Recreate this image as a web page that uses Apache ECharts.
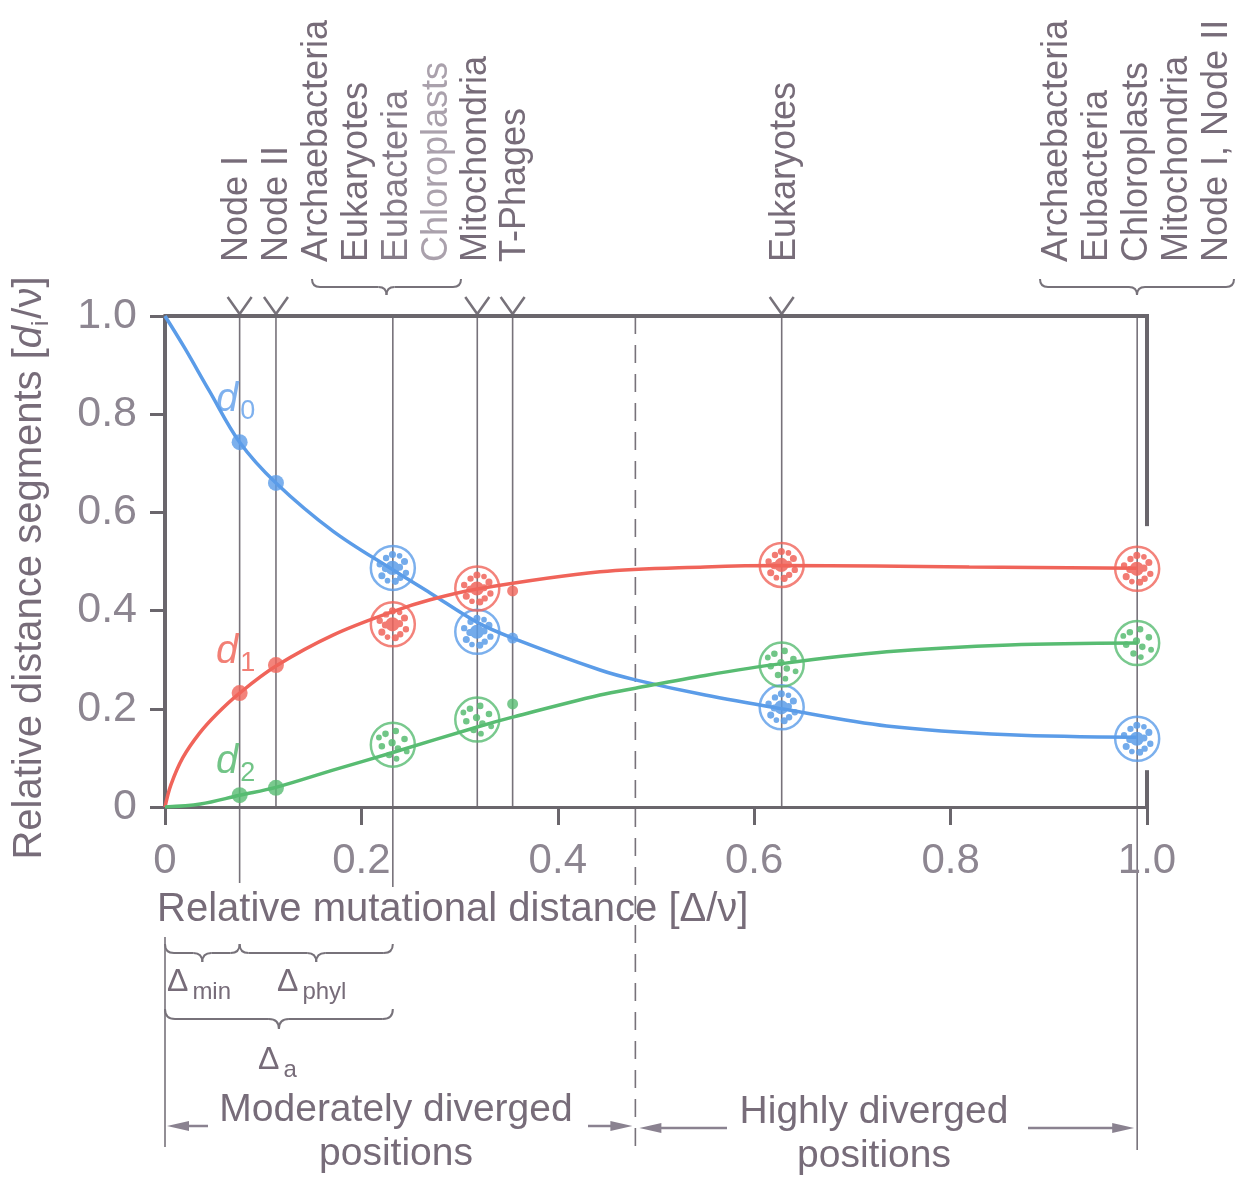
<!DOCTYPE html>
<html>
<head>
<meta charset="utf-8">
<title>Relative distance segments</title>
<script src="https://cdn.jsdelivr.net/npm/echarts@6/dist/echarts.min.js"></script>
<style>
  html, body { margin: 0; padding: 0; background: #fff; }
  #chart { width: 1243px; height: 1178px; }
</style>
</head>
<body>
<div id="chart"></div>
<script>
// tick labels
const xTicks = ['0', '0.2', '0.4', '0.6', '0.8', '1.0']
const yTicks = ['0', '0.2', '0.4', '0.6', '0.8', '1.0']

// fitted curves: [relative mutational distance, segment]
const d0Curve = [[0, 1.0], [0.02, 0.935], [0.045, 0.848], [0.076, 0.743], [0.113, 0.66], [0.171, 0.562],
  [0.232, 0.483], [0.27, 0.436], [0.318, 0.376], [0.354, 0.344], [0.443, 0.279], [0.479, 0.259],
  [0.55, 0.228], [0.628, 0.2], [0.735, 0.165], [0.86, 0.147], [0.99, 0.142]]
const d1Curve = [[0, 0], [0.006, 0.045], [0.018, 0.1], [0.035, 0.15], [0.053, 0.19], [0.076, 0.232],
  [0.113, 0.287], [0.171, 0.35], [0.232, 0.398], [0.27, 0.422], [0.318, 0.444], [0.443, 0.479],
  [0.55, 0.489], [0.628, 0.492], [0.819, 0.489], [0.99, 0.486]]
const d2Curve = [[0, 0], [0.036, 0.006], [0.076, 0.024], [0.113, 0.04], [0.171, 0.075], [0.232, 0.111],
  [0.318, 0.163], [0.354, 0.183], [0.443, 0.228], [0.479, 0.242], [0.55, 0.268], [0.628, 0.292],
  [0.735, 0.316], [0.86, 0.33], [0.99, 0.334]]

// single measurements (Node I, Node II, T-Phages)
const d0Dots = [[0.076, 0.743], [0.113, 0.66], [0.354, 0.344]]
const d1Dots = [[0.076, 0.232], [0.113, 0.289], [0.354, 0.44]]
const d2Dots = [[0.076, 0.024], [0.113, 0.039], [0.354, 0.21]]

// grouped measurements (circled clusters)
const d0Rings = [[0.232, 0.487], [0.318, 0.357], [0.628, 0.203], [0.99, 0.139]]
const d1Rings = [[0.232, 0.372], [0.318, 0.445], [0.628, 0.493], [0.99, 0.485]]
const d2Rings = [[0.232, 0.127], [0.318, 0.178], [0.628, 0.29], [0.99, 0.334]]

// marker lines: Node I, Node II, bacteria group, Mitochondria, T-Phages, Eukaryotes, all at 1.0
const markerX = [0.076, 0.113, 0.232, 0.318, 0.354, 0.628, 0.99]
// border between moderately and highly diverged positions
const borderX = 0.479

// labels above the plot
const topLabels = ['Node I', 'Node II', 'Archaebacteria', 'Eukaryotes', 'Eubacteria', 'Chloroplasts',
  'Mitochondria', 'T-Phages', 'Eukaryotes', 'Archaebacteria', 'Eubacteria', 'Chloroplasts',
  'Mitochondria', 'Node I, Node II']

const BLUE = '#5b9ce8'
const RED = '#f0645a'
const GREEN = '#58bc72'
const AXIS = '#6a666c'
const THIN = '#77727a'
const TEXT = '#776c79'
const TICK = '#8d8691'
const FONT = '"Liberation Sans", Arial, Helvetica, sans-serif'

// little cluster of dots drawn inside the rings (100 x 100 box)
const dot = (cx, cy, r) => `M${cx - r} ${cy}a${r} ${r} 0 1 0 ${2 * r} 0a${r} ${r} 0 1 0 ${-2 * r} 0z`
const denseCluster = 'path://' + [
  dot(50, 50, 20), dot(50, 12, 10), dot(84, 32, 10), dot(88, 64, 9), dot(58, 88, 10),
  dot(20, 72, 10), dot(14, 40, 9), dot(32, 22, 9), dot(70, 16, 8), dot(72, 78, 9), dot(36, 86, 8),
  dot(30, 52, 10), dot(70, 48, 10)
].join('')
const sparseCluster = 'path://' + [
  dot(30, 22, 9), dot(58, 14, 9), dot(82, 36, 9), dot(48, 46, 10), dot(20, 56, 9),
  dot(64, 62, 9), dot(88, 70, 8), dot(40, 80, 9), dot(12, 32, 8), dot(60, 90, 8)
].join('')

const curve = (name, data, color) => ({
  name,
  type: 'line',
  data,
  smooth: 0.35,
  showSymbol: false,
  lineStyle: { color, width: 3.5 },
  z: 3,
  silent: true
})

const dots = (data, color) => ({
  type: 'scatter',
  data,
  symbolSize: v => (v[0] > 0.3 ? 11 : 16),
  itemStyle: { color },
  z: 5,
  silent: true
})

const rings = (data, color) => ({
  type: 'scatter',
  data,
  symbolSize: 44,
  itemStyle: { color: 'rgba(255,255,255,0)', borderColor: color, borderWidth: 2.5 },
  z: 5,
  silent: true
})

const clusters = (data, color, symbol) => ({
  type: 'scatter',
  data,
  symbol,
  symbolSize: 34,
  symbolKeepAspect: true,
  itemStyle: { color, opacity: 0.85 },
  z: 4,
  silent: true
})

const option = {
  animation: false,
  backgroundColor: '#fff',
  grid: { left: 165, right: 96, top: 316, bottom: 371 },
  xAxis: [{
    type: 'value',
    min: 0,
    max: 1,
    interval: 0.2,
    position: 'bottom',
    splitLine: { show: false },
    axisLine: { lineStyle: { color: AXIS, width: 3 } },
    axisTick: { length: 18, lineStyle: { color: AXIS, width: 3 } },
    axisLabel: {
      margin: 33,
      fontSize: 42,
      fontFamily: FONT,
      color: TICK,
      formatter: v => xTicks[Math.round(v * 5)]
    }
  }, {
    type: 'value',
    min: 0,
    max: 1,
    position: 'top',
    splitLine: { show: false },
    axisLine: { lineStyle: { color: AXIS, width: 4 } },
    axisTick: { show: false },
    axisLabel: { show: false }
  }],
  yAxis: {
    type: 'value',
    min: 0,
    max: 1,
    interval: 0.2,
    splitLine: { show: false },
    axisLine: { show: true, lineStyle: { color: AXIS, width: 4 } },
    axisTick: { show: true, length: 15, lineStyle: { color: AXIS, width: 3 } },
    axisLabel: {
      margin: 28,
      fontSize: 43,
      fontFamily: FONT,
      color: TICK,
      formatter: v => yTicks[Math.round(v * 5)]
    }
  },
  series: [
    curve('d0', d0Curve, BLUE),
    curve('d1', d1Curve, RED),
    curve('d2', d2Curve, GREEN),
    dots(d0Dots, BLUE),
    dots(d1Dots, RED),
    dots(d2Dots, GREEN),
    rings(d0Rings, BLUE),
    rings(d1Rings, RED),
    rings(d2Rings, GREEN),
    clusters(d0Rings, BLUE, denseCluster),
    clusters(d1Rings, RED, denseCluster),
    clusters(d2Rings, GREEN, sparseCluster)
  ]
}

const chart = echarts.init(document.getElementById('chart'))
chart.setOption(option)

const px = v => chart.convertToPixel({ xAxisIndex: 0 }, v)
const py = v => chart.convertToPixel({ yAxisIndex: 0 }, v)

const line = (x1, y1, x2, y2, stroke, lineWidth, lineDash) => ({
  type: 'line',
  shape: { x1, y1, x2, y2 },
  style: { stroke, lineWidth, lineDash },
  silent: true
})

const text = (x, y, str, opts) => ({
  type: 'text',
  x,
  y,
  rotation: opts.rotation || 0,
  silent: true,
  style: {
    text: str,
    fontSize: opts.fontSize || 38,
    fontFamily: FONT,
    fontStyle: opts.fontStyle || 'normal',
    fill: opts.fill || TEXT,
    align: opts.align || 'left',
    verticalAlign: opts.verticalAlign || 'middle',
    lineHeight: opts.lineHeight,
    rich: opts.rich
  }
})

// curly brace from x1 to x2 on level y, tip pointing down
const brace = (x1, x2, y, h) => {
  const xm = (x1 + x2) / 2
  const curl = (ax, ay, bx, by, cx, cy) => ({
    type: 'bezierCurve',
    shape: { x1: ax, y1: ay, x2: bx, y2: by, cpx1: cx, cpy1: cy },
    style: { stroke: THIN, lineWidth: 2, fill: null },
    silent: true
  })
  return [
    curl(x1, y - h, x1 + h, y, x1, y),
    line(x1 + h, y, xm - h, y, THIN, 2),
    curl(xm - h, y, xm, y + h, xm, y),
    curl(xm, y + h, xm + h, y, xm, y),
    line(xm + h, y, x2 - h, y, THIN, 2),
    curl(x2 - h, y, x2, y - h, x2, y)
  ]
}

const arrow = (from, to, y) => {
  const d = to > from ? -1 : 1
  return [
    line(from, y, to + d * 14, y, '#8a8290', 2.5),
    {
      type: 'polygon',
      shape: { points: [[to, y], [to + d * 22, y - 5], [to + d * 22, y + 5]] },
      style: { fill: '#8a8290' },
      silent: true
    }
  ]
}

const yTop = py(1)
const yBottom = py(0)
const xRight = px(1)
const graphic = []

// thin marker lines, some run on below the axis
const lineEnds = [883, yBottom, 887, yBottom, yBottom, yBottom, 1150]
markerX.forEach((x, i) => {
  graphic.push(line(px(x), yTop, px(x), lineEnds[i], THIN, 1.6))
})
graphic.push(line(px(borderX), yTop, px(borderX), 1150, THIN, 1.6, [18, 11]))

// Y-shaped pointers on the top axis
;[0, 1, 3, 4, 5].forEach(i => {
  const x = px(markerX[i])
  graphic.push({
    type: 'polyline',
    shape: { points: [[x - 12, yTop - 19], [x, yTop - 2], [x + 12, yTop - 19]] },
    style: { stroke: THIN, lineWidth: 2.5, fill: null },
    silent: true
  })
})

// broken right axis
graphic.push(line(xRight, yTop - 2, xRight, py(0.572), AXIS, 4))
graphic.push(line(xRight, py(0.075), xRight, yBottom + 1, AXIS, 4))

// rotated labels above the plot
const labelCols = [237, 277, 317, 357, 397, 437, 476, 515, 785, 1057, 1097, 1137, 1177, 1217]
topLabels.forEach((str, i) => {
  const fill = i === 5 ? '#aaa1ac' : (i === 4 ? '#857b88' : TEXT)
  graphic.push(text(labelCols[i], 262, str, { rotation: Math.PI / 2, fontSize: 36, fill }))
})
graphic.push(...brace(312, 461, 287, 8))
graphic.push(...brace(1040, 1234, 287, 8))

// axis titles
graphic.push(text(157, 910, 'Relative mutational distance [Δ/ν]', { fontSize: 40 }))
graphic.push(text(30, 568, '{n|Relative distance segments [}{i|d}{s|i}{n|/ν]}', {
  rotation: Math.PI / 2,
  align: 'center',
  rich: {
    n: { fontSize: 40, fontFamily: FONT, fill: TEXT },
    i: { fontSize: 40, fontFamily: FONT, fontStyle: 'italic', fill: TEXT },
    s: { fontSize: 24, fontFamily: FONT, fill: TEXT, padding: [22, 2, 0, 0] }
  }
}))

// curve names
const subRich = color => ({
  i: { fontSize: 40, fontFamily: FONT, fontStyle: 'italic', fill: color },
  s: { fontSize: 27, fontFamily: FONT, fill: color, padding: [24, 0, 0, 2] }
})
graphic.push(text(216, 400, '{i|d}{s|0}', { rich: subRich('#7fb1ee') }))
graphic.push(text(216, 652, '{i|d}{s|1}', { rich: subRich('#f27f75') }))
graphic.push(text(216, 762, '{i|d}{s|2}', { rich: subRich('#72c487') }))

// delta braces under the axis
const x0 = px(0)
const xI = px(markerX[0])
const xG = px(markerX[2])
graphic.push(line(x0, 937, x0, 1147, THIN, 1.6))
graphic.push(...brace(x0, xI, 953, 9))
graphic.push(...brace(xI, xG, 953, 9))
graphic.push(...brace(x0, xG, 1019, 10))
const deltaRich = {
  d: { fontSize: 32, fontFamily: FONT, fill: TEXT },
  s: { fontSize: 24, fontFamily: FONT, fill: TEXT, padding: [20, 0, 0, 4] }
}
graphic.push(text(167, 982, '{d|Δ}{s|min}', { rich: deltaRich }))
graphic.push(text(277, 982, '{d|Δ}{s|phyl}', { rich: deltaRich }))
graphic.push(text(258, 1060, '{d|Δ}{s|a}', { rich: deltaRich }))

// region arrows
const xB = px(borderX)
const xR = px(markerX[6])
graphic.push(...arrow(208, x0 + 2, 1126))
graphic.push(...arrow(588, xB - 3, 1126))
graphic.push(...arrow(727, xB + 4, 1128))
graphic.push(...arrow(1028, xR - 3, 1128))
graphic.push(text(396, 1132, 'Moderately diverged\npositions', {
  fontSize: 39, align: 'center', lineHeight: 44
}))
graphic.push(text(874, 1134, 'Highly diverged\npositions', {
  fontSize: 39, align: 'center', lineHeight: 44
}))

chart.setOption({ graphic })
</script>
</body>
</html>
